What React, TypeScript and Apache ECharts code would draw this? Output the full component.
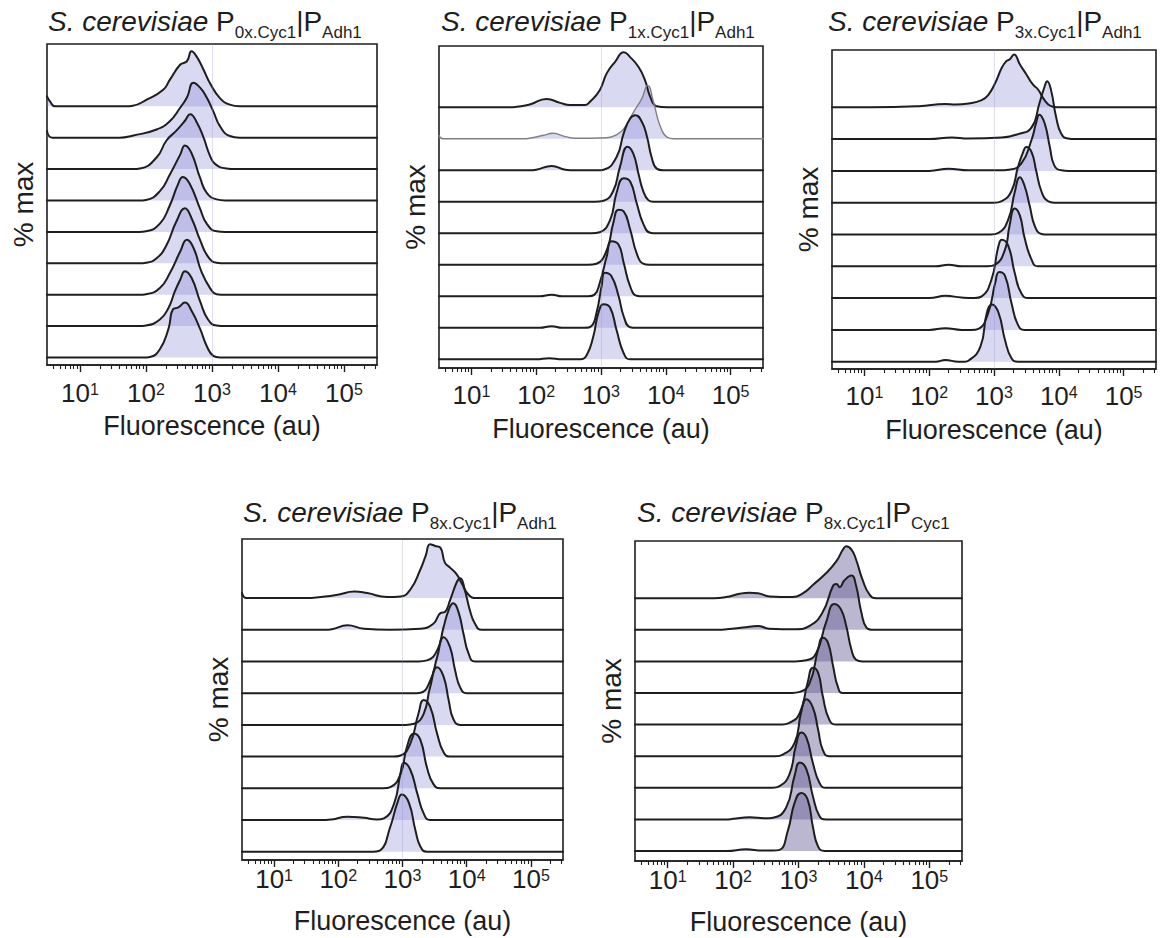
import React, { useEffect, useRef } from "react";
import * as echarts from "echarts";

// x values are log10(fluorescence, au); y values are % of each histogram's maximum.
const X_MIN = 0.5;
const X_MAX = 5.5;
const MAJOR_TICKS = [1, 2, 3, 4, 5];
const MINOR_TICKS: number[] = [];
for (let n = 0; n <= 5; n++) {
  for (let k = 2; k <= 9; k++) {
    const v = Math.log10(k * Math.pow(10, n));
    if (v > X_MIN && v < X_MAX) MINOR_TICKS.push(v);
  }
}

// Each panel: 9 histograms, listed from top to bottom.
const P0X_ADH1 = [
  [[0.5,18],[0.55,8],[0.62,0],[1.7,0],[1.8,1],[2.01,12],[2.26,30],[2.36,48],[2.52,76],[2.62,82],[2.69,100],[2.77,90],[2.87,67],[2.97,42],[3.12,15],[3.27,3],[3.42,0],[5.5,0]],
  [[0.5,12],[0.58,0],[1.6,0],[1.81,4],[2.16,15],[2.36,30],[2.52,55],[2.62,73],[2.72,100],[2.82,91],[2.92,73],[3.02,48],[3.12,21],[3.27,3],[3.42,0],[5.5,0]],
  [[0.5,0],[1.8,0],[1.91,1],[2.16,21],[2.31,52],[2.46,70],[2.59,88],[2.67,100],[2.77,85],[2.87,58],[2.97,24],[3.05,9],[3.22,1],[3.35,0],[5.5,0]],
  [[0.5,0],[1.9,0],[2.0,1],[2.21,17],[2.36,47],[2.52,84],[2.59,100],[2.69,86],[2.82,41],[2.92,14],[3.07,2],[3.2,0],[5.5,0]],
  [[0.5,0],[1.9,0],[2.0,1],[2.21,15],[2.36,48],[2.48,85],[2.56,100],[2.66,88],[2.82,42],[2.92,15],[3.07,1],[3.2,0],[5.5,0]],
  [[0.5,0],[1.9,0],[2.0,1],[2.16,9],[2.31,33],[2.46,76],[2.59,100],[2.69,82],[2.82,42],[2.94,12],[3.07,1],[3.2,0],[5.5,0]],
  [[0.5,0],[1.9,0],[2.0,1],[2.21,12],[2.36,39],[2.52,79],[2.62,100],[2.72,85],[2.84,42],[2.97,12],[3.07,1],[3.2,0],[5.5,0]],
  [[0.5,0],[1.9,0],[2.0,1],[2.21,12],[2.34,33],[2.44,64],[2.52,85],[2.59,100],[2.69,88],[2.82,45],[2.94,12],[3.07,1],[3.2,0],[5.5,0]],
  [[0.5,0],[1.96,0],[2.06,1],[2.21,15],[2.34,52],[2.41,88],[2.49,91],[2.59,100],[2.69,85],[2.82,52],[2.92,21],[3.02,3],[3.12,0],[5.5,0]],
];

const P1X_ADH1 = [
  [[0.5,0],[1.6,0],[1.7,1],[1.9,5],[2.16,15],[2.37,8],[2.52,4],[2.75,4],[2.83,10],[2.98,31],[3.09,62],[3.22,83],[3.35,100],[3.45,91],[3.58,73],[3.68,49],[3.76,19],[3.86,2],[4.02,0],[5.5,0]],
  [[0.5,6],[0.56,0],[1.8,0],[1.9,1],[2.1,6],[2.26,10],[2.45,4],[2.6,1],[3.09,2],[3.25,8],[3.35,18],[3.5,48],[3.63,73],[3.72,97],[3.81,67],[3.91,24],[4.02,3],[4.12,0],[5.5,0]],
  [[0.5,0],[1.9,0],[2.0,1],[2.24,8],[2.45,1],[2.6,0],[2.95,0],[3.04,1],[3.24,24],[3.35,67],[3.45,94],[3.53,100],[3.63,88],[3.71,61],[3.78,24],[3.86,3],[3.96,0],[5.5,0]],
  [[0.5,0],[2.9,0],[3.04,2],[3.19,20],[3.29,62],[3.41,100],[3.5,87],[3.58,50],[3.65,20],[3.73,3],[3.81,0],[5.5,0]],
  [[0.5,0],[2.85,0],[2.98,2],[3.14,24],[3.24,73],[3.35,100],[3.45,94],[3.55,55],[3.65,18],[3.76,1],[3.86,0],[5.5,0]],
  [[0.5,0],[2.8,0],[2.93,2],[3.09,27],[3.19,76],[3.27,100],[3.35,97],[3.45,64],[3.55,21],[3.65,2],[3.75,0],[5.5,0]],
  [[0.5,0],[2.05,0],[2.24,3],[2.4,0],[2.8,0],[2.9,3],[2.98,24],[3.09,73],[3.16,100],[3.27,94],[3.35,61],[3.45,18],[3.55,1],[3.65,0],[5.5,0]],
  [[0.5,0],[2.05,0],[2.24,3],[2.4,0],[2.75,0],[2.85,3],[2.93,27],[3.01,76],[3.06,100],[3.16,94],[3.27,58],[3.35,21],[3.45,1],[3.55,0],[5.5,0]],
  [[0.5,0],[2.0,0],[2.2,2],[2.4,0],[2.68,0],[2.78,8],[2.88,41],[2.96,84],[3.04,100],[3.14,94],[3.24,53],[3.35,11],[3.45,0],[5.5,0]],
];

const P3X_ADH1 = [
  [[0.5,0],[1.1,0],[1.84,2],[2.25,6],[2.4,5],[2.61,7],[2.81,13],[2.91,22],[3.02,44],[3.12,71],[3.19,83],[3.24,86],[3.31,95],[3.4,77],[3.5,59],[3.6,41],[3.68,32],[3.78,13],[3.88,2],[3.98,0],[5.5,0]],
  [[0.5,0],[2.0,0],[2.35,3],[2.6,1],[3.12,3],[3.37,9],[3.58,21],[3.7,64],[3.78,94],[3.82,104],[3.88,88],[3.96,39],[4.04,9],[4.14,1],[4.25,0],[5.5,0]],
  [[0.5,0],[2.0,0],[2.3,4],[2.6,1],[3.1,1],[3.22,2],[3.42,13],[3.58,56],[3.65,86],[3.7,101],[3.78,86],[3.86,44],[3.93,10],[4.04,1],[4.15,0],[5.5,0]],
  [[0.5,0],[3.0,0],[3.12,3],[3.27,21],[3.37,64],[3.45,91],[3.5,100],[3.58,91],[3.65,58],[3.73,21],[3.83,3],[3.93,0],[5.5,0]],
  [[0.5,0],[2.95,0],[3.07,3],[3.22,27],[3.32,76],[3.4,103],[3.47,88],[3.55,52],[3.63,15],[3.73,1],[3.83,0],[5.5,0]],
  [[0.5,0],[2.1,0],[2.3,3],[2.5,0],[2.9,0],[3.02,3],[3.17,30],[3.24,73],[3.32,104],[3.4,91],[3.47,52],[3.58,12],[3.68,0],[5.5,0]],
  [[0.5,0],[2.0,0],[2.25,4],[2.5,1],[2.7,0],[2.81,3],[2.96,33],[3.07,94],[3.12,105],[3.22,94],[3.32,45],[3.42,9],[3.53,0],[5.5,0]],
  [[0.5,0],[2.0,0],[2.25,3],[2.5,0],[2.65,0],[2.76,2],[2.91,30],[3.02,85],[3.08,104],[3.17,97],[3.27,48],[3.37,9],[3.47,0],[5.5,0]],
  [[0.5,0],[2.1,0],[2.25,3],[2.45,0],[2.55,0],[2.61,2],[2.79,27],[2.89,88],[2.97,103],[3.07,88],[3.17,39],[3.27,6],[3.37,0],[5.5,0]],
];

const P8X_ADH1 = [
  [[0.5,9],[0.57,0],[1.5,0],[1.73,2],[1.99,6],[2.25,12],[2.45,9],[2.76,2],[2.97,3],[3.12,15],[3.28,52],[3.36,76],[3.43,97],[3.51,94],[3.59,91],[3.66,64],[3.74,55],[3.85,42],[3.92,27],[4.03,6],[4.15,0],[5.5,0]],
  [[0.5,0],[1.8,0],[1.9,1],[2.14,8],[2.4,2],[2.8,0],[3.28,2],[3.48,11],[3.59,30],[3.66,32],[3.74,53],[3.85,87],[3.9,93],[3.97,72],[4.05,35],[4.13,11],[4.23,0],[5.5,0]],
  [[0.5,0],[3.25,0],[3.38,2],[3.54,20],[3.64,62],[3.72,93],[3.79,105],[3.87,90],[3.95,50],[4.03,14],[4.13,0],[5.5,0]],
  [[0.5,0],[3.15,0],[3.28,1],[3.43,22],[3.54,65],[3.64,101],[3.74,83],[3.82,41],[3.9,10],[4.0,0],[5.5,0]],
  [[0.5,0],[3.05,0],[3.18,2],[3.33,20],[3.43,68],[3.54,104],[3.64,87],[3.72,44],[3.79,11],[3.9,0],[5.5,0]],
  [[0.5,0],[2.85,0],[2.97,2],[3.12,23],[3.25,78],[3.33,102],[3.43,90],[3.54,41],[3.64,8],[3.74,0],[5.5,0]],
  [[0.5,0],[2.7,0],[2.81,2],[2.97,26],[3.07,75],[3.18,99],[3.28,87],[3.38,38],[3.48,8],[3.59,0],[5.5,0]],
  [[0.5,0],[1.8,0],[1.9,1],[2.14,6],[2.4,4],[2.6,1],[2.71,3],[2.87,30],[2.97,85],[3.02,103],[3.12,91],[3.23,48],[3.33,12],[3.43,0],[5.5,0]],
  [[0.5,0],[2.55,0],[2.66,3],[2.81,45],[2.92,88],[2.99,103],[3.1,88],[3.2,39],[3.28,9],[3.38,0],[5.5,0]],
];

const P8X_CYC1 = [
  [[0.5,0],[1.7,0],[1.89,2],[2.1,8],[2.25,10],[2.38,9],[2.56,3],[2.91,2],[3.07,9],[3.22,24],[3.42,45],[3.58,67],[3.68,88],[3.73,94],[3.81,88],[3.88,70],[3.98,33],[4.09,6],[4.19,0],[5.5,0]],
  [[0.5,0],[1.8,0],[1.9,1],[2.15,4],[2.38,7],[2.55,2],[2.96,1],[3.17,7],[3.37,32],[3.53,80],[3.58,83],[3.63,77],[3.7,89],[3.81,98],[3.88,80],[3.96,32],[4.04,4],[4.14,0],[5.5,0]],
  [[0.5,0],[2.95,0],[3.12,2],[3.27,15],[3.42,70],[3.55,104],[3.65,94],[3.73,64],[3.81,21],[3.88,3],[3.98,0],[5.5,0]],
  [[0.5,0],[2.9,0],[3.02,2],[3.17,18],[3.3,79],[3.37,100],[3.45,91],[3.53,48],[3.6,12],[3.68,0],[5.5,0]],
  [[0.5,0],[2.75,0],[2.86,3],[3.02,21],[3.14,76],[3.22,103],[3.3,94],[3.37,52],[3.47,9],[3.58,0],[5.5,0]],
  [[0.5,0],[2.65,0],[2.76,3],[2.94,24],[3.04,79],[3.12,103],[3.22,88],[3.3,48],[3.37,12],[3.47,0],[5.5,0]],
  [[0.5,0],[2.6,0],[2.71,3],[2.86,24],[2.96,76],[3.04,100],[3.12,91],[3.22,45],[3.32,9],[3.42,0],[5.5,0]],
  [[0.5,0],[1.9,0],[2.0,1],[2.25,4],[2.5,2],[2.61,3],[2.81,21],[2.94,79],[3.02,103],[3.12,91],[3.22,42],[3.32,6],[3.42,0],[5.5,0]],
  [[0.5,0],[1.9,0],[2.2,3],[2.45,1],[2.6,1],[2.71,2],[2.84,38],[2.94,87],[3.04,105],[3.14,93],[3.22,44],[3.3,8],[3.4,0],[5.5,0]],
];

const TITLE_SUBS = [
  ["0x.Cyc1", "Adh1"],
  ["1x.Cyc1", "Adh1"],
  ["3x.Cyc1", "Adh1"],
  ["8x.Cyc1", "Adh1"],
  ["8x.Cyc1", "Cyc1"],
];
const PANEL_DATA = [P0X_ADH1, P1X_ADH1, P3X_ADH1, P8X_ADH1, P8X_CYC1];

// Layout and style (pixels)
const FONT = "'Liberation Sans', Arial, Helvetica, sans-serif";
const INK = "#1e1e1e";
const PEAK_UNITS = 1.75; // height of 100 % in baseline spacings
const LIGHT_FILL = "rgba(130,130,212,0.30)";
const DARK_FILL = "rgba(105,96,150,0.45)";
const LAYOUT = [
  { left: 47, top: 44, width: 330, height: 321, base: 357.5, step: 31.4, tx: 48, ty: 1, margin: 16, fill: LIGHT_FILL, gate: true },
  { left: 439, top: 46, width: 324, height: 322, base: 359.3, step: 31.5, tx: 441, ty: 1, margin: 15, fill: LIGHT_FILL, gate: true },
  { left: 832, top: 50, width: 324, height: 319, base: 361.7, step: 31.8, tx: 828, ty: 1, margin: 15, fill: LIGHT_FILL, gate: true },
  { left: 242, top: 539, width: 321, height: 321, base: 851.7, step: 31.7, tx: 243, ty: 492, margin: 7, fill: LIGHT_FILL, gate: true },
  { left: 635, top: 541, width: 327, height: 320, base: 851, step: 31.6, tx: 637, ty: 492, margin: 7, fill: DARK_FILL, gate: false },
];

function buildOption() {
  const grid: any[] = [];
  const xAxis: any[] = [];
  const yAxis: any[] = [];
  const series: any[] = [];
  const title: any[] = [];

  LAYOUT.forEach((L, pi) => {
    const bottom = L.top + L.height;
    const yMin = -(bottom - L.base) / L.step;
    const yMax = (L.base - L.top) / L.step;
    const [s1, s2] = TITLE_SUBS[pi];

    title.push({
      left: L.tx,
      top: L.ty,
      padding: 0,
      text: `{it|S. cerevisiae }{n|P}{s|${s1}}{n||P}{s|${s2}}`,
      textStyle: {
        fontFamily: FONT,
        fontWeight: "normal",
        fontSize: 28,
        color: INK,
        rich: {
          it: { fontFamily: FONT, fontStyle: "italic", fontWeight: "normal", fontSize: 28, lineHeight: 40, color: INK },
          n: { fontFamily: FONT, fontWeight: "normal", fontSize: 28, lineHeight: 40, color: INK },
          s: { fontFamily: FONT, fontWeight: "normal", fontSize: 17, lineHeight: 18, verticalAlign: "bottom", color: INK },
        },
      },
    });

    grid.push({
      left: L.left,
      top: L.top,
      width: L.width,
      height: L.height,
      show: true,
      borderColor: INK,
      borderWidth: 1.6,
      backgroundColor: "transparent",
      containLabel: false,
      outerBoundsMode: "none",
    });

    xAxis.push({
      type: "value",
      gridIndex: pi,
      min: X_MIN,
      max: X_MAX,
      position: "bottom",
      axisLine: { show: true, onZero: false, lineStyle: { color: INK, width: 1.6 } },
      axisTick: { show: true, customValues: MAJOR_TICKS, length: 7, lineStyle: { color: INK, width: 1.4 } },
      axisLabel: {
        show: true,
        customValues: MAJOR_TICKS,
        margin: L.margin,
        fontFamily: FONT,
        fontSize: 26,
        lineHeight: 24,
        color: INK,
        formatter: (v: number) => `{b|10}{e|${Math.round(v)}}`,
        rich: {
          b: { fontFamily: FONT, fontSize: 26, lineHeight: 24, color: INK },
          e: { fontFamily: FONT, fontSize: 16, lineHeight: 16, verticalAlign: "top", color: INK },
        },
      },
      splitLine: { show: false },
      name: "Fluorescence (au)",
      nameLocation: "middle",
      nameGap: 47,
      nameMoveOverlap: false,
      nameTextStyle: { fontFamily: FONT, fontSize: 27, color: INK },
    });
    xAxis.push({
      type: "value",
      gridIndex: pi,
      min: X_MIN,
      max: X_MAX,
      position: "bottom",
      offset: 0,
      axisLine: { show: false, onZero: false },
      axisTick: { show: true, customValues: MINOR_TICKS, length: 4, lineStyle: { color: INK, width: 1.1 } },
      axisLabel: { show: false },
      splitLine: { show: false },
    });

    yAxis.push({
      type: "value",
      gridIndex: pi,
      min: yMin,
      max: yMax,
      axisLine: { show: false },
      axisTick: { show: false },
      axisLabel: { show: false },
      splitLine: { show: false },
      name: "% max",
      nameLocation: "middle",
      nameRotate: 90,
      nameGap: 10,
      nameTextStyle: { fontFamily: FONT, fontSize: 28, color: INK },
    });

    const curves = PANEL_DATA[pi];
    curves.forEach((curve: number[][], ci: number) => {
      const offset = curves.length - 1 - ci;
      const gray = pi === 1 && ci === 1;
      const s: any = {
        type: "line",
        xAxisIndex: pi * 2,
        yAxisIndex: pi,
        data: curve.map(([x, v]) => [x, offset + (v / 100) * PEAK_UNITS]),
        smooth: 0.5,
        symbol: "none",
        showSymbol: false,
        silent: true,
        clip: true,
        lineStyle: { color: gray ? "#808080" : INK, width: gray ? 1.4 : 2, cap: "round", join: "round" },
        areaStyle: { color: L.fill, opacity: 1, origin: offset },
        z: 3,
      };
      if (ci === curves.length - 1 && L.gate) {
        s.markLine = {
          silent: true,
          symbol: "none",
          label: { show: false },
          lineStyle: { color: "rgba(150,150,210,0.3)", width: 1, type: "solid" },
          data: [{ xAxis: 3 }],
        };
      }
      series.push(s);
    });
  });

  return {
    animation: false,
    backgroundColor: "#ffffff",
    title,
    grid,
    xAxis,
    yAxis,
    series,
  };
}

export default function App() {
  const ref = useRef<HTMLDivElement>(null);
  useEffect(() => {
    if (!ref.current) return;
    const chart = echarts.init(ref.current, null, { renderer: "svg" });
    chart.setOption(buildOption() as any);
    return () => chart.dispose();
  }, []);
  return (
    <div
      ref={ref}
      style={{ position: "fixed", left: 0, top: 0, width: 1161, height: 938, background: "#fff" }}
    />
  );
}
